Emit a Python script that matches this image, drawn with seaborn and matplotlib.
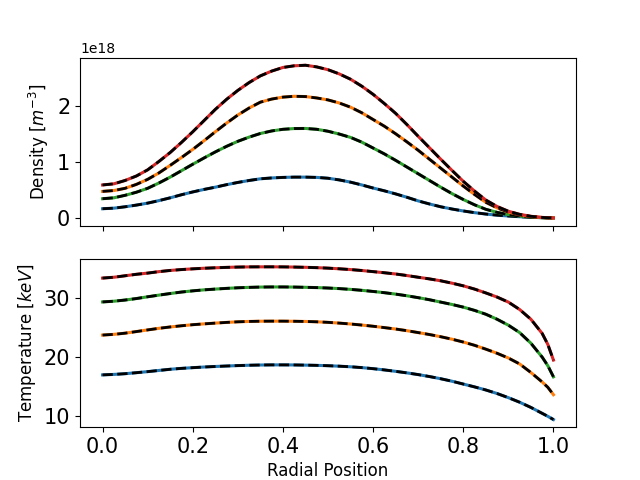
import numpy as np
import seaborn as sns
import matplotlib
matplotlib.use("Agg")
import matplotlib.pyplot as plt

# radial grid (normalised radius)
radius = [0.0, 0.025, 0.05, 0.075, 0.1, 0.125, 0.15, 0.175, 0.2, 0.225,
          0.25, 0.275, 0.3, 0.325, 0.35, 0.375, 0.4, 0.425, 0.45, 0.475,
          0.5, 0.525, 0.55, 0.575, 0.6, 0.625, 0.65, 0.675, 0.7, 0.725,
          0.75, 0.775, 0.8, 0.825, 0.85, 0.875, 0.9, 0.925, 0.95, 0.975,
          0.9875, 1.0]

# density profiles, units of 1e18 m^-3
dens_blue = [0.165, 0.175, 0.20, 0.23, 0.265, 0.31, 0.36, 0.415, 0.465, 0.51,
             0.55, 0.595, 0.635, 0.67, 0.70, 0.715, 0.725, 0.73, 0.73, 0.725,
             0.71, 0.68, 0.64, 0.59, 0.535, 0.485, 0.43, 0.37, 0.305, 0.25,
             0.20, 0.16, 0.125, 0.095, 0.07, 0.05, 0.035, 0.022, 0.012, 0.005,
             0.002, 0.0]
dens_green = [0.344, 0.36, 0.405, 0.46, 0.53, 0.625, 0.73, 0.845, 0.96, 1.072,
              1.18, 1.28, 1.37, 1.445, 1.51, 1.555, 1.585, 1.598, 1.60, 1.585,
              1.55, 1.50, 1.44, 1.355, 1.25, 1.145, 1.03, 0.91, 0.79, 0.67,
              0.55, 0.435, 0.33, 0.235, 0.155, 0.10, 0.06, 0.035, 0.015, 0.005,
              0.002, 0.0]
dens_orange = [0.475, 0.49, 0.53, 0.60, 0.69, 0.805, 0.94, 1.08, 1.225, 1.38,
               1.54, 1.695, 1.84, 1.965, 2.07, 2.125, 2.16, 2.175, 2.17, 2.145,
               2.11, 2.055, 1.98, 1.88, 1.76, 1.64, 1.505, 1.36, 1.21, 1.05,
               0.89, 0.73, 0.57, 0.42, 0.28, 0.18, 0.105, 0.055, 0.025, 0.008,
               0.003, 0.0]
dens_red = [0.59, 0.61, 0.67, 0.75, 0.86, 1.01, 1.17, 1.35, 1.54, 1.74,
            1.94, 2.12, 2.28, 2.42, 2.54, 2.625, 2.69, 2.72, 2.73, 2.70,
            2.65, 2.575, 2.48, 2.355, 2.21, 2.045, 1.87, 1.67, 1.46, 1.255,
            1.05, 0.85, 0.655, 0.48, 0.32, 0.205, 0.12, 0.065, 0.03, 0.01,
            0.004, 0.0]

# temperature profiles, keV
temp_blue = [17.0, 17.08, 17.2, 17.37, 17.55, 17.75, 17.95, 18.1, 18.22, 18.33,
             18.42, 18.5, 18.57, 18.63, 18.67, 18.69, 18.69, 18.68, 18.65, 18.61,
             18.55, 18.47, 18.37, 18.23, 18.05, 17.84, 17.6, 17.34, 17.05, 16.72,
             16.35, 15.93, 15.45, 14.97, 14.45, 13.85, 13.15, 12.38, 11.5, 10.5,
             10.0, 9.45]
temp_orange = [23.73, 23.85, 24.05, 24.32, 24.6, 24.87, 25.1, 25.3, 25.48, 25.62,
               25.75, 25.87, 25.97, 26.03, 26.07, 26.08, 26.08, 26.06, 26.03, 25.97,
               25.88, 25.75, 25.6, 25.42, 25.22, 24.99, 24.75, 24.47, 24.15, 23.82,
               23.45, 23.03, 22.55, 22.0, 21.35, 20.65, 19.85, 18.85, 17.4, 15.8,
               14.9, 13.65]
temp_green = [29.33, 29.45, 29.65, 29.9, 30.2, 30.48, 30.75, 31.0, 31.2, 31.37,
              31.5, 31.62, 31.72, 31.79, 31.84, 31.86, 31.86, 31.84, 31.8, 31.75,
              31.68, 31.58, 31.45, 31.29, 31.1, 30.89, 30.65, 30.37, 30.05, 29.7,
              29.3, 28.9, 28.45, 27.9, 27.25, 26.4, 25.4, 24.15, 22.35, 20.0,
              18.55, 16.67]
temp_red = [33.36, 33.5, 33.75, 34.0, 34.2, 34.45, 34.65, 34.8, 34.92, 35.02,
            35.1, 35.17, 35.22, 35.25, 35.26, 35.26, 35.25, 35.22, 35.18, 35.12,
            35.04, 34.93, 34.8, 34.64, 34.45, 34.26, 34.05, 33.79, 33.5, 33.22,
            32.9, 32.5, 32.05, 31.5, 30.85, 30.15, 29.3, 28.05, 26.4, 24.0,
            22.15, 19.5]

r = np.array(radius)
density_sets = [("tab:blue", dens_blue), ("tab:green", dens_green),
                ("tab:orange", dens_orange), ("tab:red", dens_red)]
temperature_sets = [("tab:blue", temp_blue), ("tab:orange", temp_orange),
                    ("tab:green", temp_green), ("tab:red", temp_red)]

fig, (ax1, ax2) = plt.subplots(2, 1, sharex=True, figsize=(6.4, 4.8), dpi=100)

# top panel: density (coloured line with black dashed overlay)
for colour, vals in density_sets:
    y = np.array(vals) * 1e18
    sns.lineplot(x=r, y=y, ax=ax1, color=colour, linewidth=2.2)
    sns.lineplot(x=r, y=y, ax=ax1, color="k", linestyle="--", linewidth=2)
ax1.set_ylabel("Density [$m^{-3}$]", fontsize=12)
ax1.tick_params(labelsize=15)

# bottom panel: temperature
for colour, vals in temperature_sets:
    sns.lineplot(x=r, y=vals, ax=ax2, color=colour, linewidth=2.2)
    sns.lineplot(x=r, y=vals, ax=ax2, color="k", linestyle="--", linewidth=2)
ax2.set_ylabel("Temperature [$keV$]", fontsize=12)
ax2.set_xlabel("Radial Position", fontsize=12)
ax2.tick_params(labelsize=15)
ax2.set_xticks([0.0, 0.2, 0.4, 0.6, 0.8, 1.0])

fig.savefig("out.png", dpi=100)
